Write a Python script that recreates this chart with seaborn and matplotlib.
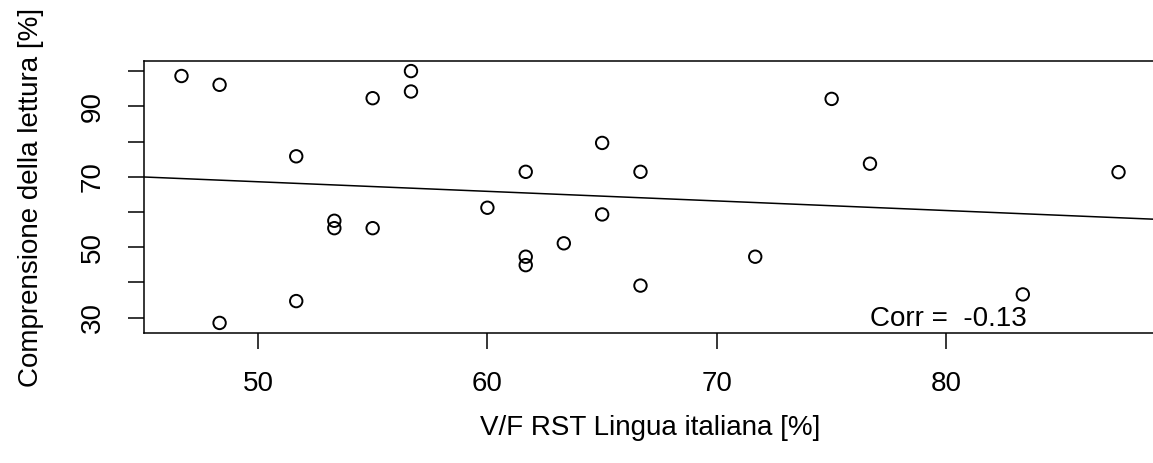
import numpy as np
import pandas as pd
import matplotlib
matplotlib.use("Agg")
import matplotlib.pyplot as plt
import seaborn as sns

# Data
vf_rst = [46.67, 48.33, 48.33, 51.67, 51.67, 53.33, 53.33, 55.0, 55.0, 56.67,
          56.67, 60.0, 61.67, 61.67, 61.67, 63.33, 65.0, 65.0, 66.67, 66.67,
          71.67, 75.0, 76.67, 83.33, 87.5]
comprensione = [98.6, 96.1, 28.5, 75.8, 34.7, 57.5, 55.4, 92.3, 55.4, 100.0,
                94.2, 61.2, 71.4, 47.3, 44.9, 51.1, 79.6, 59.3, 71.4, 39.1,
                47.3, 92.1, 73.7, 36.6, 71.3]
x_ticks = [50, 60, 70, 80]
y_ticks = [30, 40, 50, 60, 70, 80, 90, 100]
y_tick_labels = ["30", "", "50", "", "70", "", "90", ""]
x_label = "V/F RST Lingua italiana [%]"
y_label = "Comprensione della lettura [%]"
corr_text = "Corr =  -0.13"

df = pd.DataFrame({"x": vf_rst, "y": comprensione})

sns.set_style("white")
plt.rcParams["font.family"] = ["Liberation Sans", "DejaVu Sans"]
plt.rcParams["text.color"] = "black"
plt.rcParams["axes.labelcolor"] = "black"
plt.rcParams["xtick.color"] = "black"
plt.rcParams["ytick.color"] = "black"

FS = 20
W, H = 1153, 463
fig = plt.figure(figsize=(W / 100, H / 100), dpi=100)
left, right, top, bottom = 144, 1156, 61, 333
ax = fig.add_axes([left / W, 1 - bottom / H, (right - left) / W, (bottom - top) / H])

xr = max(vf_rst) - min(vf_rst)
yr = max(comprensione) - min(comprensione)
xlim = (min(vf_rst) - 0.04 * xr, max(vf_rst) + 0.04 * xr)
ylim = (min(comprensione) - 0.04 * yr, max(comprensione) + 0.04 * yr)
ax.set_xlim(xlim)
ax.set_ylim(ylim)

sns.regplot(data=df, x="x", y="y", ax=ax, ci=None, truncate=False,
            scatter_kws=dict(s=80, facecolors="none", edgecolors="black",
                             linewidths=1.4, marker="o", alpha=1),
            line_kws=dict(color="black", linewidth=1.1))
ax.set_xlim(xlim)
ax.set_ylim(ylim)

for s in ax.spines.values():
    s.set_color("black")
    s.set_linewidth(1.1)
    s.set_visible(True)

ax.set_xticks(x_ticks)
ax.set_xticklabels([str(t) for t in x_ticks], fontsize=FS)
ax.set_yticks(y_ticks)
ax.set_yticklabels(y_tick_labels, fontsize=FS, rotation=90, va="center")
ax.tick_params(axis="both", which="major", direction="out", length=11.5,
               width=1.1, color="black", labelcolor="black",
               bottom=True, left=True)
ax.tick_params(axis="x", pad=16)
ax.tick_params(axis="y", pad=16)

ax.set_xlabel(x_label, fontsize=FS, labelpad=13, color="black")
ax.set_ylabel(y_label, fontsize=FS, labelpad=26, color="black")

ax.text(80.1, ylim[0] + 0.3, corr_text, fontsize=FS, ha="center", va="bottom",
        color="black")

fig.savefig("out.png", dpi=100)
